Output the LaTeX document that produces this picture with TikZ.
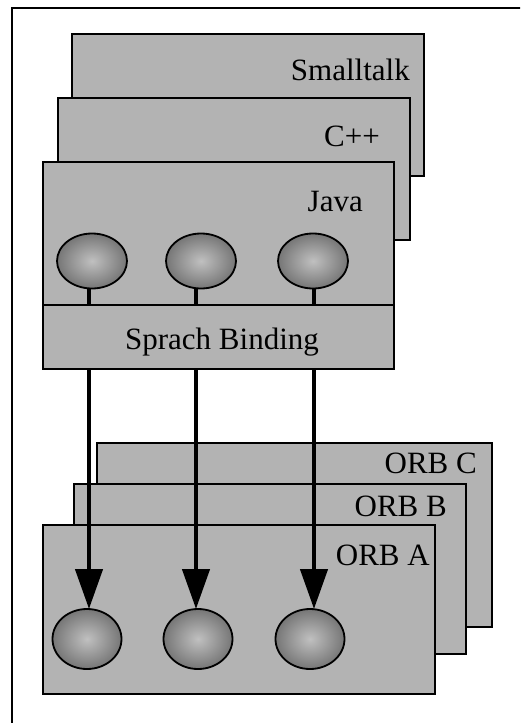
\documentclass[tikz,border=0pt]{standalone}
\usepackage{fontspec}
\setmainfont{Liberation Serif}
\usetikzlibrary{shapes.geometric,arrows.meta}
\definecolor{boxgray}{RGB}{179,179,179}
\definecolor{balllight}{RGB}{192,192,192}
\definecolor{balldark}{RGB}{118,118,118}
\begin{document}
\begin{tikzpicture}[x=1pt,y=-1pt,
  panel/.style={draw=black,line width=1.8pt,fill=boxgray,anchor=north west,inner sep=0pt,outer sep=0pt},
  lbl/.style={anchor=base east,inner sep=0pt,font=\fontsize{31}{36}\selectfont},
  ball/.style={ellipse,draw=black,line width=1.8pt,inner color=balllight,outer color=balldark,inner sep=0pt,outer sep=0pt},
  stem/.style={line width=4.5pt},
  arr/.style={line width=4.5pt,-{Triangle[length=40pt,width=27pt]}},
  frame/.style={line width=2pt}]
\useasboundingbox (0,0) rectangle (520,723);
\clip (0,0) rectangle (520,723);
% outer frame (only its left and top sides are in view)
\coordinate (fbl) at (12,740);
\coordinate (ftl) at (12,8);
\coordinate (ftr) at (540,8);
\draw[frame] (fbl) -- (ftl) -- (ftr);
% language panels
\node[panel,minimum width=352pt,minimum height=142pt] (st) at (72,34) {};
\node[lbl] (stl) at (410,80) {Smalltalk};
\node[panel,minimum width=352pt,minimum height=142pt] (cpp) at (58,98) {};
\node[lbl] (cppl) at (380,146) {C++};
\node[panel,minimum width=351pt,minimum height=143pt] (java) at (43,162) {};
\node[lbl] (javal) at (363,211) {Java};
\node[panel,minimum width=351pt,minimum height=64pt] (sb) at (43,305) {};
\node[anchor=base,inner sep=0pt,font=\fontsize{31}{36}\selectfont] (sbl) at (222,349) {Sprach Binding};
% columns
\coordinate (c1) at (89,0);
\coordinate (c2) at (196,0);
\coordinate (c3) at (314,0);
% java objects
\node[ball,minimum width=70pt,minimum height=55pt] (j1) at (92,261) {};
\node[ball,minimum width=70pt,minimum height=55pt] (j2) at (201,261) {};
\node[ball,minimum width=70pt,minimum height=55pt] (j3) at (313,261) {};
\draw[stem] (c1 |- j1.south) -- (c1 |- sb.north);
\draw[stem] (c2 |- j2.south) -- (c2 |- sb.north);
\draw[stem] (c3 |- j3.south) -- (c3 |- sb.north);
% ORB panels
\node[panel,minimum width=395pt,minimum height=184pt] (orbc) at (97,443) {};
\node[lbl] (orbcl) at (477,473) {ORB C};
\node[panel,minimum width=392pt,minimum height=170pt] (orbb) at (74,484) {};
\node[lbl] (orbbl) at (447,516) {ORB B};
\node[panel,minimum width=392pt,minimum height=169pt] (orba) at (43,525) {};
\node[lbl] (orbal) at (430,565) {ORB A};
% ORB objects
\node[ball,minimum width=69pt,minimum height=60pt] (b1) at (87,639) {};
\node[ball,minimum width=69pt,minimum height=60pt] (b2) at (198,639) {};
\node[ball,minimum width=69pt,minimum height=60pt] (b3) at (310,639) {};
% arrows
\draw[arr] (c1 |- sb.south) -- (c1 |- b1.north);
\draw[arr] (c2 |- sb.south) -- (c2 |- b2.north);
\draw[arr] (c3 |- sb.south) -- (c3 |- b3.north);
\end{tikzpicture}
\end{document}
